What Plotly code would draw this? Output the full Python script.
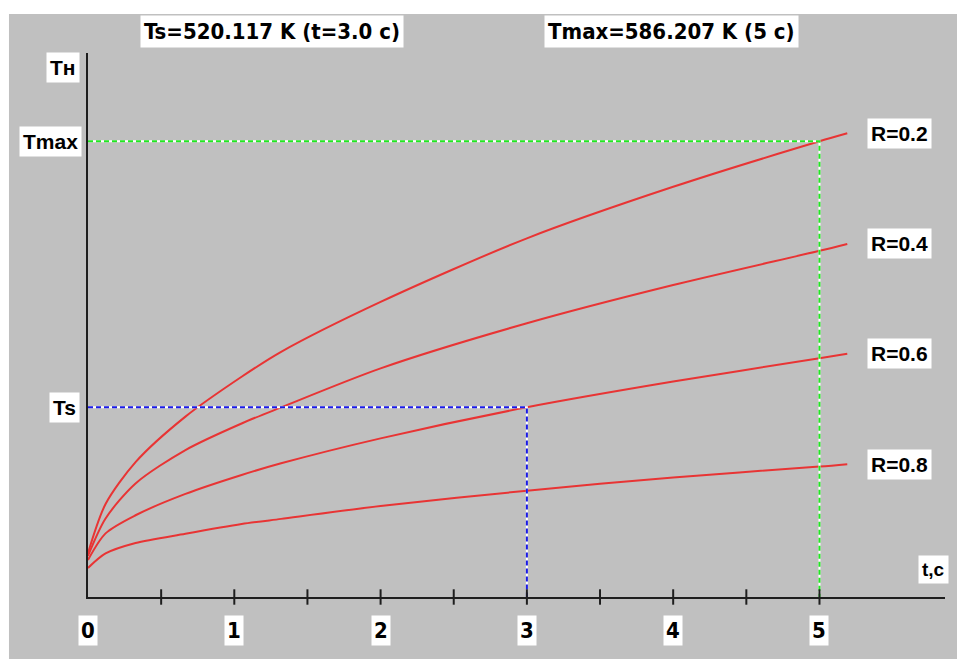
import plotly.graph_objects as go

# ---- data ----
t = [0, 0.12, 0.325, 0.666, 1.05, 1.32, 2.0, 3.0, 4.0, 5.0, 5.19]
T_R02 = [483.9, 496.1, 506.5, 517.8, 527.7, 533.9, 546.3, 562.1, 574.9, 586.207, 588.2]
T_R04 = [483.2, 492.5, 501.2, 509.5, 516.1, 520.1, 529.8, 541.0, 550.5, 559.0, 560.7]
T_R06 = [482.2, 488.8, 493.3, 498.6, 503.3, 506.2, 512.4, 520.117, 526.5, 532.3, 533.4]
T_R08 = [480.2, 483.8, 486.4, 488.7, 491.1, 492.4, 495.6, 499.4, 502.7, 505.4, 506.0]
series_names = ["R=0.2", "R=0.4", "R=0.6", "R=0.8"]
series = [T_R02, T_R04, T_R06, T_R08]

Ts = 520.117
ts_time = 3.0
Tmax = 586.207
tmax_time = 5.0

x_ticks = [0.5, 1, 1.5, 2, 2.5, 3, 3.5, 4, 4.5, 5]
x_tick_labels = ["0", "1", "2", "3", "4", "5"]
x_tick_label_pos = [0, 1, 2, 3, 4, 5]

x_range = [0, 5.858]
y_range = [472.99, 608.14]

GRAY = "#c0c0c0"
RED = "#e83434"
AX = "#1e1e1e"
NARROW = "DejaVu Sans Condensed, Liberation Sans Narrow, Arial Narrow, sans-serif"
BOLD = "Liberation Sans, Arial, sans-serif"

fig = go.Figure()

for name, ys in zip(series_names, series):
    fig.add_trace(go.Scatter(x=t, y=ys, mode="lines",
                             line=dict(color=RED, width=2, shape="spline", smoothing=0.8),
                             name=name, showlegend=False, hoverinfo="skip"))

# dashed guide lines (colored dashes with white gaps)
for xx, yy, col in [([0, ts_time, ts_time], [Ts, Ts, y_range[0]], "#1a1ae6"),
                    ([0, tmax_time, tmax_time], [Tmax, Tmax, y_range[0]], "#22e622")]:
    fig.add_trace(go.Scatter(x=xx, y=yy, mode="lines", line=dict(color="white", width=2),
                             showlegend=False, hoverinfo="skip"))
    fig.add_trace(go.Scatter(x=xx, y=yy, mode="lines", line=dict(color=col, width=2, dash="5px,3px"),
                             showlegend=False, hoverinfo="skip"))

# x-axis ticks crossing the axis
fig.add_trace(go.Scatter(x=x_ticks, y=[y_range[0]] * len(x_ticks), mode="markers",
                         marker=dict(symbol="line-ns", size=11, line=dict(color=AX, width=2)),
                         cliponaxis=False, showlegend=False, hoverinfo="skip"))


def label(text, x, y, xref, yref, size, family=BOLD, xanchor="center", pad=2):
    return dict(x=x, y=y, xref=xref, yref=yref, text="<b>" + text + "</b>", showarrow=False,
                xanchor=xanchor, yanchor="middle", bgcolor="white",
                font=dict(family=family, size=size, color="black"), borderpad=pad)


ann = []
# curve labels at end of each series
for name, ys in zip(series_names, series):
    ann.append(label(name, 5.547, ys[-1], "x", "y", 21, pad=3))
# x tick labels
for xv, lab in zip(x_tick_label_pos, x_tick_labels):
    ann.append(label(lab, xv, -0.0615, "x", "paper", 22, family=NARROW, pad=2))
# y labels
ann.append(label("Tmax", -0.007, Tmax, "paper", "y", 21, xanchor="right", pad=3))
ann.append(label("Ts", -0.009, Ts, "paper", "y", 21, xanchor="right", pad=3))
ann.append(label("Тн", -0.009, 0.9725, "paper", "paper", 21, xanchor="right", pad=3))
ann.append(label("t,c", 5.78, 0.0505, "x", "paper", 19, pad=3))
# top captions
ann.append(label("Ts=520.117 K (t=3.0 c)", 0.2147, 1.0404, "paper", "paper", 22, family=NARROW, pad=3))
ann.append(label("Tmax=586.207 K (5 c)", 0.6803, 1.0404, "paper", "paper", 22, family=NARROW, pad=3))

shapes = [
    dict(type="rect", xref="paper", yref="paper", x0=-0.11, x1=-0.0922, y0=-0.12, y1=1.11,
         fillcolor="white", line=dict(width=0), layer="below"),
    dict(type="rect", xref="paper", yref="paper", x0=-0.11, x1=1.02, y0=1.0716, y1=1.11,
         fillcolor="white", line=dict(width=0), layer="below"),
]

fig.update_layout(
    width=957, height=659,
    margin=dict(l=88, r=12, t=53, b=62),
    paper_bgcolor=GRAY, plot_bgcolor=GRAY,
    xaxis=dict(range=x_range, showgrid=False, zeroline=False, showticklabels=False, ticks="",
               showline=True, linecolor=AX, linewidth=2, fixedrange=True),
    yaxis=dict(range=y_range, showgrid=False, zeroline=False, showticklabels=False, ticks="",
               showline=True, linecolor=AX, linewidth=2, fixedrange=True),
    annotations=ann, shapes=shapes,
)

fig.write_html("out.html")
